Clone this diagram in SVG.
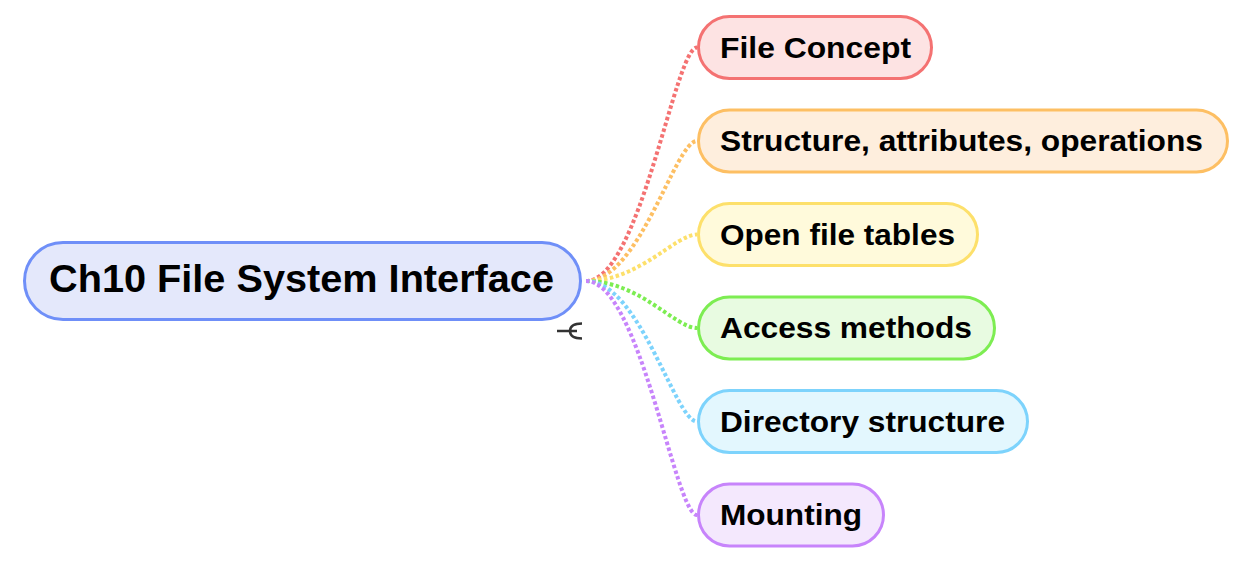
<svg xmlns="http://www.w3.org/2000/svg" width="1246" height="566" viewBox="0 0 1246 566">
<style>
text{font-family:"Liberation Sans",Arial,Helvetica,sans-serif;font-weight:bold;fill:#000}
.root{font-size:39px}
.child{font-size:29px}
.box{stroke-width:3}
.link{fill:none;stroke-width:4;stroke-dasharray:3.5 2.5}
</style>
<rect width="1246" height="566" fill="#fff"/>
<g id="connectors">
<path class="link" stroke="#f47272" d="M586 281 C640 281 675 47.5 697 47.5"/>
<path class="link" stroke="#fdbf63" d="M586 281 C640 281 675 141 697 141"/>
<path class="link" stroke="#fde06b" d="M586 281 C640 281 675 234.5 697 234.5"/>
<path class="link" stroke="#7ded52" d="M586 281 C640 281 675 328 697 328"/>
<path class="link" stroke="#7dd3fc" d="M586 281 C640 281 675 421.5 697 421.5"/>
<path class="link" stroke="#c784fb" d="M586 281 C640 281 675 515 697 515"/>
</g>
<g id="root">
<rect class="box" x="24.5" y="242.5" width="556" height="77" rx="38.5" fill="#e4e8fb" stroke="#6f8ff8"/>
<text class="root" x="49" y="292" textLength="505" lengthAdjust="spacingAndGlyphs">Ch10 File System Interface</text>
<g id="collapse-icon" fill="none" stroke="#333" stroke-width="2.5">
<line x1="557" y1="331" x2="577" y2="331"/>
<path d="M582 323.5 C572 323.5 570 327.5 570 331 C570 334.5 572 338.5 582 338.5"/>
</g>
</g>
<g id="n1">
<rect class="box" x="698.5" y="16.5" width="233" height="62" rx="31" fill="#fde3e3" stroke="#f47272"/>
<text class="child" x="720" y="57.5" textLength="191" lengthAdjust="spacingAndGlyphs">File Concept</text>
</g>
<g id="n2">
<rect class="box" x="698.5" y="110" width="529" height="62" rx="31" fill="#feeedd" stroke="#fdbf63"/>
<text class="child" x="720" y="151" textLength="483" lengthAdjust="spacingAndGlyphs">Structure, attributes, operations</text>
</g>
<g id="n3">
<rect class="box" x="698.5" y="203.5" width="279" height="62" rx="31" fill="#fffadb" stroke="#fde06b"/>
<text class="child" x="720" y="244.5" textLength="235" lengthAdjust="spacingAndGlyphs">Open file tables</text>
</g>
<g id="n4">
<rect class="box" x="698.5" y="297" width="296" height="62" rx="31" fill="#e8fbe1" stroke="#7ded52"/>
<text class="child" x="720" y="338" textLength="252" lengthAdjust="spacingAndGlyphs">Access methods</text>
</g>
<g id="n5">
<rect class="box" x="698.5" y="390.5" width="329" height="62" rx="31" fill="#e3f7fe" stroke="#7dd3fc"/>
<text class="child" x="720" y="431.5" textLength="285" lengthAdjust="spacingAndGlyphs">Directory structure</text>
</g>
<g id="n6">
<rect class="box" x="698.5" y="484" width="185" height="62" rx="31" fill="#f4e8fd" stroke="#c784fb"/>
<text class="child" x="720" y="525" textLength="142" lengthAdjust="spacingAndGlyphs">Mounting</text>
</g>
</svg>
